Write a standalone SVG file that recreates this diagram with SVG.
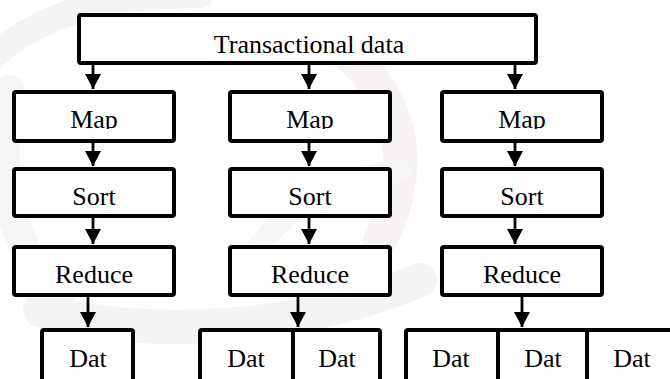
<svg xmlns="http://www.w3.org/2000/svg" width="670" height="379" viewBox="0 0 670 379">
  <style>
    .box { fill: #ffffff; stroke: #000000; stroke-width: 4; stroke-linejoin: round; }
    .div { stroke: #000000; stroke-width: 4; }
    .lbl { font-family: "Liberation Serif", "Times New Roman", serif; font-size: 26px; fill: #000000; text-anchor: middle; }
    .edge { stroke: #000000; stroke-width: 2.8; fill: none; marker-end: url(#head); }
    .wm { fill: none; stroke-linecap: round; }
  </style>
  <defs>
    <marker id="head" markerUnits="userSpaceOnUse" markerWidth="16" markerHeight="16" refX="15" refY="8" orient="auto">
      <path d="M0,0 L15,8 L0,16 z" fill="#000000"/>
    </marker>
    <!-- the Map labels are cut at the baseline -->
    <clipPath id="mapcut">
      <rect x="0" y="90" width="670" height="39"/>
    </clipPath>
  </defs>

  <rect width="670" height="379" fill="#ffffff"/>

  <!-- faint background emblem -->
  <g id="emblem" opacity="0.35">
    <path class="wm" d="M-10,60 C40,10 120,-5 200,-5" stroke="#e0e0e0" stroke-width="26"/>
    <path class="wm" d="M10,90 C-5,170 10,250 60,300" stroke="#e4e4e4" stroke-width="30"/>
    <path class="wm" d="M40,310 C150,340 300,330 420,280" stroke="#e2e2e2" stroke-width="34"/>
    <path class="wm" d="M330,40 C400,90 420,160 380,240" stroke="#ecdede" stroke-width="34"/>
    <path class="wm" d="M250,260 C280,210 330,180 400,170" stroke="#e6e6e6" stroke-width="22"/>
  </g>

  <!-- connectors -->
  <g id="connectors">
    <line class="edge" x1="93" y1="65" x2="93" y2="89"/>
    <line class="edge" x1="309" y1="65" x2="309" y2="89"/>
    <line class="edge" x1="515" y1="65" x2="515" y2="89"/>

    <line class="edge" x1="93" y1="143" x2="93" y2="166"/>
    <line class="edge" x1="309" y1="143" x2="309" y2="166"/>
    <line class="edge" x1="515" y1="143" x2="515" y2="166"/>

    <line class="edge" x1="93" y1="218" x2="93" y2="244"/>
    <line class="edge" x1="309" y1="218" x2="309" y2="244"/>
    <line class="edge" x1="515" y1="218" x2="515" y2="244"/>

    <line class="edge" x1="88" y1="297" x2="88" y2="327"/>
    <line class="edge" x1="298" y1="297" x2="298" y2="327"/>
    <line class="edge" x1="522" y1="297" x2="522" y2="327"/>
  </g>

  <g id="transactional-data">
    <rect class="box" x="79" y="15" width="457" height="48" rx="2"/>
    <text class="lbl" x="309" y="53">Transactional data</text>
  </g>

  <!-- column 1 -->
  <g id="map-1">
    <rect class="box" x="14" y="92" width="160" height="49" rx="2"/>
    <text class="lbl" x="94" y="128" clip-path="url(#mapcut)">Map</text>
  </g>
  <g id="sort-1">
    <rect class="box" x="14" y="169" width="160" height="47" rx="2"/>
    <text class="lbl" x="94" y="205">Sort</text>
  </g>
  <g id="reduce-1">
    <rect class="box" x="14" y="247" width="160" height="48" rx="2"/>
    <text class="lbl" x="94" y="283">Reduce</text>
  </g>
  <g id="dat-1">
    <rect class="box" x="42" y="330" width="91" height="70" rx="2"/>
    <text class="lbl" x="88" y="367">Dat</text>
  </g>

  <!-- column 2 -->
  <g id="map-2">
    <rect class="box" x="230" y="92" width="160" height="49" rx="2"/>
    <text class="lbl" x="310" y="128" clip-path="url(#mapcut)">Map</text>
  </g>
  <g id="sort-2">
    <rect class="box" x="230" y="169" width="160" height="47" rx="2"/>
    <text class="lbl" x="310" y="205">Sort</text>
  </g>
  <g id="reduce-2">
    <rect class="box" x="230" y="247" width="160" height="48" rx="2"/>
    <text class="lbl" x="310" y="283">Reduce</text>
  </g>
  <g id="dat-2">
    <rect class="box" x="200" y="330" width="180" height="70" rx="2"/>
    <line class="div" x1="293" y1="330" x2="293" y2="400"/>
    <text class="lbl" x="246" y="367">Dat</text>
    <text class="lbl" x="337" y="367">Dat</text>
  </g>

  <!-- column 3 -->
  <g id="map-3">
    <rect class="box" x="442" y="92" width="160" height="49" rx="2"/>
    <text class="lbl" x="522" y="128" clip-path="url(#mapcut)">Map</text>
  </g>
  <g id="sort-3">
    <rect class="box" x="442" y="169" width="160" height="47" rx="2"/>
    <text class="lbl" x="522" y="205">Sort</text>
  </g>
  <g id="reduce-3">
    <rect class="box" x="442" y="247" width="160" height="48" rx="2"/>
    <text class="lbl" x="522" y="283">Reduce</text>
  </g>
  <g id="dat-3">
    <rect class="box" x="406" y="330" width="280" height="70" rx="2"/>
    <line class="div" x1="498" y1="330" x2="498" y2="400"/>
    <line class="div" x1="587" y1="330" x2="587" y2="400"/>
    <text class="lbl" x="451" y="367">Dat</text>
    <text class="lbl" x="543" y="367">Dat</text>
    <text class="lbl" x="632" y="367">Dat</text>
  </g>
</svg>
